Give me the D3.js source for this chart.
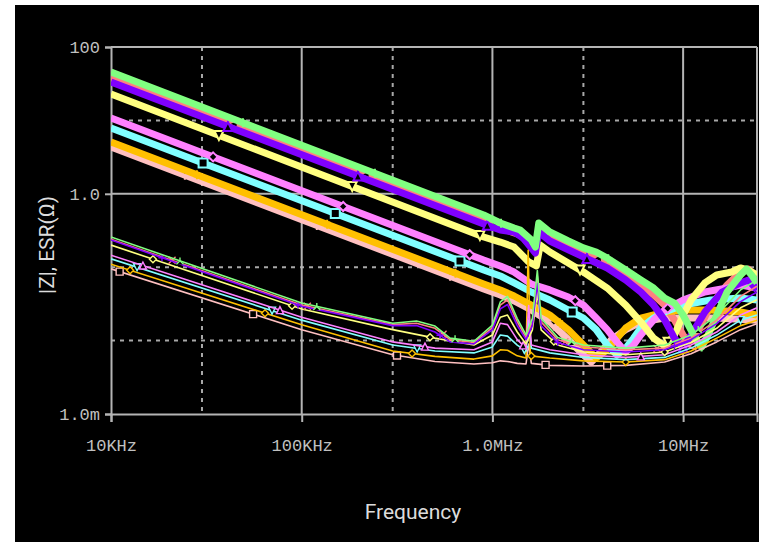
<!DOCTYPE html>
<html lang="en">
<head>
<meta charset="UTF-8">
<title>|Z| and ESR vs Frequency</title>
<script src="https://d3js.org/d3.v7.min.js"></script>
<style>
  body { margin: 0; background: #fff; }
  .tick-label { font-family: "Liberation Mono", "DejaVu Sans Mono", monospace; font-size: 17px; fill: #c0c0c0; }
  .title { font-family: Roboto, "Noto Sans", sans-serif; font-size: 21px; fill: #dcdcdc; }
</style>
</head>
<body>
<svg id="chart" width="759" height="542"></svg>
<script>
// axis ticks
const xTicks = [1e4, 1e5, 1e6, 1e7];
const xTickLabels = ["10KHz", "100KHz", "1.0MHz", "10MHz"];
const xDashed = [3e4, 3e5, 3e6];
const yTicks = [1e-3, 1, 100];
const yTickLabels = ["1.0m", "1.0", "100"];
const yDashed = [0.01, 0.1, 10];

// |Z| traces (Hz, ohm)
const zGreen = [[1e4,45.6],[9e5,0.514],[1.1e6,0.40],[1.3e6,0.342],[1.4e6,0.321],[1.6e6,0.235],[1.68e6,0.188],[1.75e6,0.40],[2e6,0.302],[2.5e6,0.2275],[3e6,0.183],[3.5e6,0.161],[4e6,0.133],[5e6,0.0916],[6e6,0.067],[7e6,0.052],[8e6,0.038],[9e6,0.0325],[1e7,0.0223],[1.1e7,0.0139],[1.2e7,0.00927],[1.25e7,0.00818],[1.35e7,0.0119],[1.5e7,0.0223],[1.7e7,0.0459],[2e7,0.0783],[2.15e7,0.0945],[2.3e7,0.0766],[2.44e7,0.061]];
const zSalmon = [[1e4,39.0],[9e5,0.44],[1.1e6,0.342],[1.4e6,0.275],[1.68e6,0.171],[1.75e6,0.342],[2e6,0.266],[3e6,0.161],[4e6,0.114],[5e6,0.0783],[6e6,0.0572],[7e6,0.0418],[8e6,0.0305],[9e6,0.0191],[1e7,0.0119],[1.1e7,0.0087],[1.2e7,0.0139],[1.4e7,0.0305],[1.7e7,0.0572],[2e7,0.086],[2.2e7,0.0945],[2.44e7,0.065]];
const zPurple = [[1e4,33.4],[9e5,0.388],[1.1e6,0.321],[1.3e6,0.302],[1.45e6,0.25],[1.68e6,0.156],[1.75e6,0.302],[2e6,0.2275],[3e6,0.138],[4e6,0.0975],[5e6,0.067],[6e6,0.0459],[7e6,0.0305],[8e6,0.0191],[9e6,0.0108],[1e7,0.0079],[1.1e7,0.0119],[1.3e7,0.0245],[1.6e7,0.0459],[2e7,0.061],[2.2e7,0.067],[2.44e7,0.049]];
const zYellow = [[1e4,22.9],[9e5,0.258],[1.1e6,0.22],[1.3e6,0.188],[1.55e6,0.118],[1.7e6,0.104],[1.78e6,0.2006],[2e6,0.161],[3e6,0.086],[4e6,0.052],[5e6,0.0305],[6e6,0.0179],[7e6,0.0108],[8e6,0.00844],[9e6,0.0119],[1e7,0.0223],[1.1e7,0.0357],[1.3e7,0.061],[1.5e7,0.0783],[1.8e7,0.086],[2e7,0.0975],[2.2e7,0.0915],[2.44e7,0.0783]];
const zMagenta = [[1e4,10.8],[9e5,0.125],[1.1e6,0.104],[1.3e6,0.086],[1.6e6,0.059],[2e6,0.049],[2.5e6,0.0393],[3e6,0.0305],[3.5e6,0.0203],[4e6,0.0141],[4.5e6,0.00957],[5e6,0.0070],[5.5e6,0.0087],[6e6,0.0119],[7e6,0.0191],[8e6,0.0261],[1e7,0.0357],[1.3e7,0.0459],[1.7e7,0.052],[2e7,0.0572],[2.44e7,0.052]];
const zCyan = [[1e4,7.88],[9e5,0.0916],[1.1e6,0.0759],[1.3e6,0.061],[1.6e6,0.0459],[2e6,0.0357],[2.5e6,0.0261],[3e6,0.0203],[3.5e6,0.0141],[4e6,0.0087],[4.5e6,0.00637],[5e6,0.0079],[5.5e6,0.0108],[6e6,0.01485],[7e6,0.0203],[8e6,0.0245],[1e7,0.0305],[1.4e7,0.0357],[2e7,0.038],[2.44e7,0.0357]];
const zOrange = [[1e4,5.08],[9e5,0.059],[1.1e6,0.049],[1.3e6,0.0405],[1.6e6,0.0305],[2e6,0.0223],[2.5e6,0.0141],[3e6,0.0087],[3.5e6,0.0058],[4e6,0.0075],[4.5e6,0.0108],[5e6,0.01485],[6e6,0.0203],[8e6,0.0245],[1e7,0.0261],[1.4e7,0.0261],[2e7,0.0245],[2.44e7,0.0223]];
const zPink = [[1e4,4.34],[9e5,0.0505],[1.1e6,0.0418],[1.3e6,0.0347],[1.6e6,0.0261],[2e6,0.0179],[2.5e6,0.0103],[3e6,0.00637],[3.3e6,0.0051],[3.7e6,0.0070],[4.2e6,0.0103],[5e6,0.0141],[6e6,0.0179],[8e6,0.0203],[1e7,0.0203],[1.5e7,0.0203],[2.44e7,0.019]];

// ESR traces (Hz, ohm)
const eGreen = [[1e4,0.258],[1e5,0.0325],[3e5,0.0172],[4e5,0.0185],[5e5,0.0158],[6e5,0.0108],[8e5,0.0098],[1e6,0.0163],[1.1e6,0.0336],[1.2e6,0.040],[1.35e6,0.020],[1.5e6,0.012],[1.62e6,0.020],[1.72e6,0.090],[1.8e6,0.020],[2.2e6,0.0110],[3e6,0.0087],[5e6,0.0079],[8e6,0.0087],[1.1e7,0.0119],[1.5e7,0.0223],[2e7,0.049],[2.44e7,0.067]];
const eSalmon = [[1e4,0.240],[1e5,0.0305],[3e5,0.0165],[4e5,0.0172],[5e5,0.0147],[6e5,0.0103],[8e5,0.0094],[1e6,0.0150],[1.1e6,0.0305],[1.2e6,0.036],[1.35e6,0.018],[1.5e6,0.0110],[1.62e6,0.018],[1.72e6,0.075],[1.8e6,0.018],[2.2e6,0.0103],[3e6,0.0082],[5e6,0.0075],[8e6,0.0079],[1.1e7,0.0108],[1.5e7,0.019],[2e7,0.040],[2.44e7,0.055]];
const ePurple = [[1e4,0.235],[1e5,0.0293],[3e5,0.0160],[4e5,0.0160],[5e5,0.0131],[6e5,0.0096],[8e5,0.0090],[1e6,0.0141],[1.1e6,0.027],[1.2e6,0.031],[1.35e6,0.016],[1.5e6,0.0103],[1.62e6,0.016],[1.72e6,0.060],[1.8e6,0.016],[2.2e6,0.0094],[3e6,0.0075],[5e6,0.0070],[8e6,0.0075],[1.1e7,0.0103],[1.5e7,0.017],[2e7,0.034],[2.44e7,0.046]];
const eYellow = [[1e4,0.200],[1e5,0.027],[3e5,0.0141],[5e5,0.0108],[8e5,0.0087],[1e6,0.0119],[1.1e6,0.0208],[1.2e6,0.0223],[1.35e6,0.0131],[1.5e6,0.0090],[1.62e6,0.014],[1.72e6,0.045],[1.8e6,0.014],[2.2e6,0.0087],[3e6,0.0070],[5e6,0.0064],[8e6,0.0070],[1.1e7,0.0094],[1.5e7,0.0147],[2e7,0.028],[2.44e7,0.036]];
const eMagenta = [[1e4,0.146],[1e5,0.0208],[3e5,0.0096],[5e5,0.0079],[8e5,0.0075],[1e6,0.0096],[1.1e6,0.0172],[1.2e6,0.0165],[1.35e6,0.0103],[1.5e6,0.0079],[1.55e6,0.0300],[1.6e6,0.0087],[2e6,0.0075],[3e6,0.0064],[5e6,0.0059],[8e6,0.0064],[1.1e7,0.0087],[1.5e7,0.0131],[2e7,0.0223],[2.44e7,0.028]];
const eCyan = [[1e4,0.130],[1e5,0.019],[3e5,0.0087],[5e5,0.0072],[8e5,0.0068],[1e6,0.0082],[1.1e6,0.0119],[1.2e6,0.0115],[1.35e6,0.0087],[1.5e6,0.0072],[1.55e6,0.0190],[1.6e6,0.0079],[2e6,0.0068],[3e6,0.0059],[5e6,0.0055],[8e6,0.0059],[1.1e7,0.0079],[1.5e7,0.0119],[2e7,0.019],[2.44e7,0.0223]];
const eOrange = [[1e4,0.110],[1e5,0.0164],[3e5,0.0072],[5e5,0.0061],[8e5,0.0056],[1e6,0.0062],[1.1e6,0.0075],[1.2e6,0.0074],[1.35e6,0.0062],[1.5e6,0.0058],[1.54e6,0.170],[1.58e6,0.0062],[2e6,0.0058],[3e6,0.0053],[5e6,0.0051],[8e6,0.0055],[1.1e7,0.0072],[1.5e7,0.0108],[2e7,0.016],[2.44e7,0.019]];
const ePink = [[1e4,0.095],[1e5,0.0141],[3e5,0.0064],[5e5,0.0052],[8e5,0.0048],[1e6,0.0050],[1.1e6,0.0053],[1.2e6,0.0052],[1.35e6,0.0049],[1.5e6,0.0048],[1.55e6,0.0090],[1.6e6,0.0049],[2e6,0.0046],[3e6,0.0045],[5e6,0.0046],[8e6,0.0051],[1.1e7,0.0066],[1.5e7,0.0096],[2e7,0.0141],[2.44e7,0.017]];

// marker positions (Hz)
const zGreenMk = [49.2e3, 242e3, 1.11e6, 4.05e6, 12.5e6];
const zSalmonMk = [43.7e3, 215e3, 1.01e6, 3.55e6, 11e6];
const zPurpleMk = [41e3, 197e3, 0.94e6, 3.13e6, 10e6];
const zYellowMk = [36.8e3, 184e3, 0.86e6, 2.88e6, 8.34e6];
const zMagentaMk = [34.3e3, 165e3, 0.76e6, 2.72e6, 8.3e6];
const zCyanMk = [30.4e3, 150e3, 0.676e6, 2.62e6, 7.57e6];
const zOrangeMk = [28.2e3, 136e3, 0.64e6, 2.26e6, 10e6];
const zPinkMk = [24.4e3, 120e3, 0.6e6, 2.1e6, 6.7e6];
const eGreenMk = [23e3, 120e3, 637e3, 2.6e6, 12e6];
const eSalmonMk = [20.9e3, 107e3, 551e3, 2.4e6, 7.3e6];
const ePurpleMk = [18.5e3, 95.7e3, 531e3, 2.2e6, 9e6];
const eYellowMk = [16.6e3, 89e3, 471e3, 2.1e6, 8e6];
const eMagentaMk = [14.7e3, 76.9e3, 443e3, 1.45e6, 6e6];
const eCyanMk = [13.7e3, 69.9e3, 403e3, 1.47e6, 20e6];
const eOrangeMk = [12.6e3, 64.2e3, 379e3, 1.6e6, 5e6];
const ePinkMk = [11.1e3, 55.6e3, 316e3, 1.9e6, 4e6];

const colors = {green:"#80ff80", salmon:"#ff8080", purple:"#8000ff", yellow:"#ffff80",
                magenta:"#ff80ff", cyan:"#80ffff", orange:"#ffc000", pink:"#ffc0c0"};

// draw order: bottom first
const zTraces = [
  {pts: zPink, mk: zPinkMk, c: colors.pink, sym: "Y"},
  {pts: zSalmon, mk: zSalmonMk, c: colors.salmon, sym: "trileft"},
  {pts: zOrange, mk: zOrangeMk, c: colors.orange, sym: "dollar"},
  {pts: zCyan, mk: zCyanMk, c: colors.cyan, sym: "square"},
  {pts: zMagenta, mk: zMagentaMk, c: colors.magenta, sym: "diamond"},
  {pts: zYellow, mk: zYellowMk, c: colors.yellow, sym: "tridown"},
  {pts: zPurple, mk: zPurpleMk, c: colors.purple, sym: "tri"},
  {pts: zGreen, mk: zGreenMk, c: colors.green, sym: "plus"}
];
const eTraces = [
  {pts: ePink, mk: ePinkMk, c: colors.pink, sym: "square"},
  {pts: eOrange, mk: eOrangeMk, c: colors.orange, sym: "diamond"},
  {pts: eCyan, mk: eCyanMk, c: colors.cyan, sym: "tridown"},
  {pts: eMagenta, mk: eMagentaMk, c: colors.magenta, sym: "tri"},
  {pts: eYellow, mk: eYellowMk, c: colors.yellow, sym: "diamond"},
  {pts: eSalmon, mk: eSalmonMk, c: colors.salmon, sym: "x"},
  {pts: ePurple, mk: ePurpleMk, c: colors.purple, sym: "plus"},
  {pts: eGreen, mk: eGreenMk, c: colors.green, sym: "lambda"}
];

const L = 111, R = 757, T = 47, B = 414;
const svg = d3.select("#chart");
svg.append("rect").attr("x", 15).attr("y", 5).attr("width", 744).attr("height", 537).attr("fill", "#000");

const x = d3.scaleLog().domain([1e4, 2.44e7]).range([L, R]);
const y = d3.scaleLog().domain([1e-3, 100]).range([B, T]);

const grid = svg.append("g");
xDashed.forEach(f => grid.append("line").attr("x1", x(f)).attr("x2", x(f)).attr("y1", T).attr("y2", B)
  .attr("stroke", "#a8a8a8").attr("stroke-width", 2).attr("stroke-dasharray", "4,5"));
yDashed.forEach(v => grid.append("line").attr("x1", L).attr("x2", R).attr("y1", y(v)).attr("y2", y(v))
  .attr("stroke", "#a8a8a8").attr("stroke-width", 2).attr("stroke-dasharray", "4,5"));
xTicks.slice(1).forEach(f => grid.append("line").attr("x1", x(f)).attr("x2", x(f)).attr("y1", T).attr("y2", B)
  .attr("stroke", "#b4b4b4").attr("stroke-width", 2));
grid.append("line").attr("x1", L).attr("x2", R).attr("y1", y(1)).attr("y2", y(1))
  .attr("stroke", "#b4b4b4").attr("stroke-width", 2);

// axes
const xAxis = svg.append("g").attr("transform", `translate(0,${B})`)
  .call(d3.axisBottom(x).tickValues(xTicks).tickSize(8).tickPadding(14).tickFormat((d, i) => xTickLabels[i]));
const yAxis = svg.append("g").attr("transform", `translate(${L},0)`)
  .call(d3.axisLeft(y).tickValues(yTicks).tickSize(6).tickPadding(5).tickFormat((d, i) => yTickLabels[i]));
[xAxis, yAxis].forEach(a => {
  a.select(".domain").attr("stroke", "#b4b4b4").attr("stroke-width", 2);
  a.selectAll(".tick line").attr("stroke", "#b4b4b4").attr("stroke-width", 2);
  a.selectAll("text").attr("class", "tick-label").attr("fill", null);
});
xAxis.selectAll("text").attr("dy", "0.9em");
// frame top / right
svg.append("line").attr("x1", L).attr("x2", R).attr("y1", T).attr("y2", T).attr("stroke", "#b4b4b4").attr("stroke-width", 2);
svg.append("line").attr("x1", R).attr("x2", R).attr("y1", T).attr("y2", B).attr("stroke", "#b4b4b4").attr("stroke-width", 2);

svg.append("text").attr("class", "title").attr("text-anchor", "middle")
  .attr("transform", "translate(54,245) rotate(-90)").text("|Z|, ESR(Ω)");
svg.append("text").attr("class", "title").attr("text-anchor", "middle")
  .attr("x", 413).attr("y", 519).text("Frequency");

// traces
svg.append("clipPath").attr("id", "clip").append("rect")
  .attr("x", L).attr("y", T).attr("width", R - L).attr("height", B - T);
const plot = svg.append("g").attr("clip-path", "url(#clip)");
const line = d3.line().x(d => x(d[0])).y(d => y(d[1]));

function valueAt(pts, f) {
  const lf = Math.log10(f);
  for (let i = 1; i < pts.length; i++) {
    const a = Math.log10(pts[i - 1][0]), b = Math.log10(pts[i][0]);
    if (lf <= b) {
      const t = (lf - a) / (b - a);
      return Math.pow(10, Math.log10(pts[i - 1][1]) * (1 - t) + Math.log10(pts[i][1]) * t);
    }
  }
  return pts[pts.length - 1][1];
}

function symbol(type, s) {
  switch (type) {
    case "plus": return `M${-s},0H${s}M0,${-s}V${s}`;
    case "x": return `M${-s},${-s}L${s},${s}M${-s},${s}L${s},${-s}`;
    case "square": return `M${-s},${-s}H${s}V${s}H${-s}Z`;
    case "diamond": return `M0,${-s}L${s},0L0,${s}L${-s},0Z`;
    case "tri": return `M0,${-s}L${s},${s}L${-s},${s}Z`;
    case "tridown": return `M${-s},${-s}L${s},${-s}L0,${s}Z`;
    case "trileft": return `M${s},${-s}L${-s},0L${s},${s}Z`;
    case "Y": return `M${-s},${-s}L0,0L${s},${-s}M0,0V${s}`;
    case "lambda": return `M${-s},${s}L0,0L${s},${s}M0,0V${-s}`;
    case "dollar": return `M0,${-s}V${s}M${-s * 0.7},${-s * 0.4}H${s * 0.7}M${-s * 0.7},${s * 0.4}H${s * 0.7}`;
  }
}

function drawTrace(t, width, ms, mw) {
  plot.append("path").datum(t.pts).attr("d", line).attr("fill", "none")
    .attr("stroke", t.c).attr("stroke-width", width).attr("stroke-linejoin", "round");
  t.mk.forEach(f => {
    plot.append("path").attr("d", symbol(t.sym, ms))
      .attr("transform", `translate(${x(f)},${y(valueAt(t.pts, f))})`)
      .attr("fill", "#000").attr("stroke", t.c).attr("stroke-width", mw);
  });
}
zTraces.forEach(t => drawTrace(t, 7, 4.5, 2));
eTraces.forEach(t => drawTrace(t, 1.6, 3.5, 1.4));
</script>
</body>
</html>
